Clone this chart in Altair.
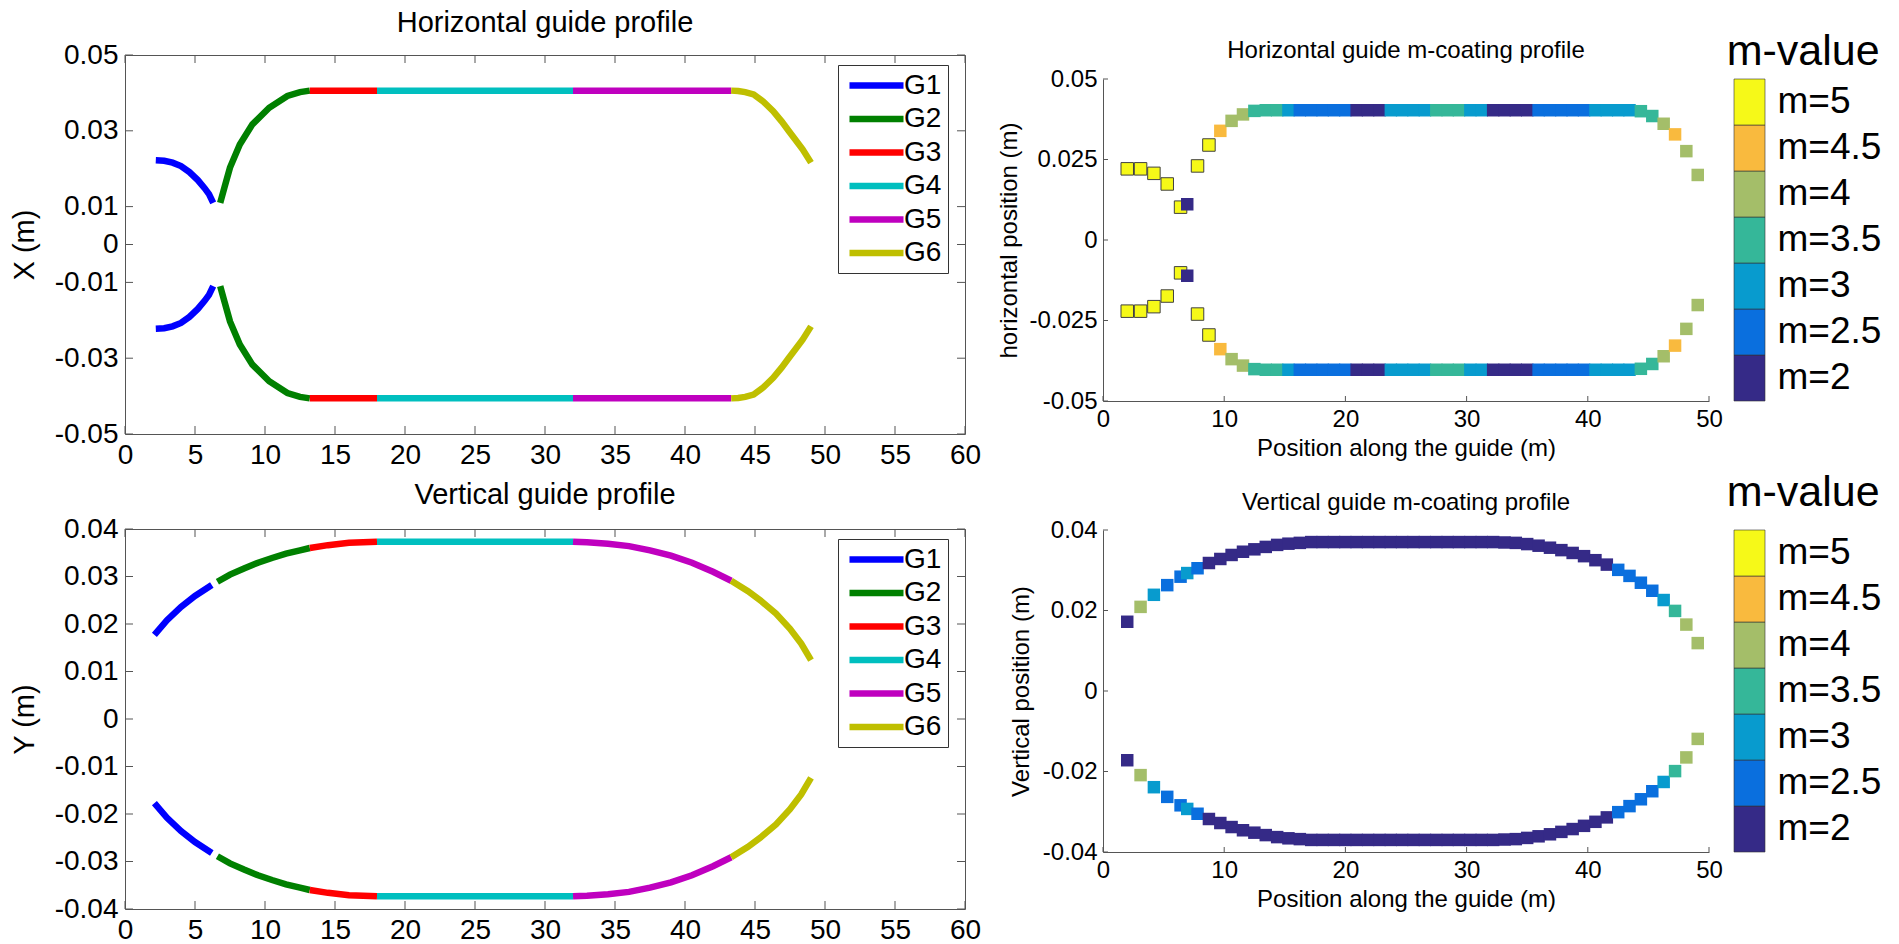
import altair as alt
import pandas as pd

# ---------------------------------------------------------------------------
# Guide sections and their line colours
# ---------------------------------------------------------------------------
SEGMENTS = ["G1", "G2", "G3", "G4", "G5", "G6"]
SEG_COLORS = ["#0000FF", "#008000", "#FF0000", "#00BFBF", "#BF00BF", "#BFBF00"]

# Horizontal guide profile, upper wall (lower wall is the mirror image)
HX_G1 = [2.2, 2.8, 3.4, 4.0, 4.6, 5.2, 5.7, 6.0, 6.3]
HY_G1 = [0.0222, 0.0221, 0.0216, 0.0207, 0.0191, 0.0170, 0.0148, 0.0133, 0.0110]
HX_G2 = [6.8, 7.1, 7.5, 8.2, 9.1, 10.3, 11.6, 12.5, 13.2]
HY_G2 = [0.0110, 0.0150, 0.0203, 0.0264, 0.0317, 0.0361, 0.0392, 0.0402, 0.0406]
HX_G3 = [13.2, 18.0]
HY_G3 = [0.0406, 0.0406]
HX_G4 = [18.0, 32.0]
HY_G4 = [0.0406, 0.0406]
HX_G5 = [32.0, 43.3]
HY_G5 = [0.0406, 0.0406]
HX_G6 = [43.3, 43.8, 44.3, 44.9, 45.6, 46.3, 46.9, 47.4, 47.9, 48.4, 49.0]
HY_G6 = [0.0406, 0.0405, 0.0402, 0.0396, 0.0377, 0.0352, 0.0325, 0.0300, 0.0276, 0.0251, 0.0216]

# Vertical guide profile, upper wall
VX_G1 = [2.1, 3.0, 4.0, 5.0, 6.2]
VY_G1 = [0.0177, 0.0208, 0.0236, 0.0259, 0.0282]
VX_G2 = [6.6, 7.5, 8.5, 9.5, 10.5, 11.5, 12.5, 13.2]
VY_G2 = [0.0289, 0.0304, 0.0317, 0.0329, 0.0339, 0.0348, 0.0355, 0.0360]
VX_G3 = [13.2, 14.5, 16.0, 17.0, 18.0]
VY_G3 = [0.0360, 0.0366, 0.0371, 0.0372, 0.0373]
VX_G4 = [18.0, 32.0]
VY_G4 = [0.0373, 0.0373]
VX_G5 = [32.0, 33.0, 34.5, 36.0, 37.5, 39.0, 40.5, 42.0, 43.3]
VY_G5 = [0.0373, 0.0372, 0.0369, 0.0364, 0.0355, 0.0344, 0.0329, 0.0310, 0.0291]
VX_G6 = [43.3, 44.5, 45.5, 46.5, 47.5, 48.3, 49.0]
VY_G6 = [0.0291, 0.0269, 0.0247, 0.0222, 0.0190, 0.0159, 0.0124]

# ---------------------------------------------------------------------------
# m-coating: element positions along the guide, wall offset and m-value
# ---------------------------------------------------------------------------
POS = [2.0, 3.1, 4.2, 5.3, 6.4, 6.95,
       7.80, 8.74, 9.68, 10.61, 11.55, 12.49, 13.43, 14.37, 15.30, 16.24, 17.18,
       18.12, 19.06, 19.99, 20.93, 21.87, 22.81, 23.75, 24.68, 25.62, 26.56,
       27.50, 28.44, 29.37, 30.31, 31.25, 32.19, 33.13, 34.06, 35.00, 35.94,
       36.88, 37.82, 38.75, 39.69, 40.63, 41.57, 42.51, 43.44, 44.38, 45.32,
       46.26, 47.20, 48.13, 49.07]

H_Y = [0.0221, 0.0221, 0.0207, 0.0174, 0.0102, 0.0111,
       0.0230, 0.0295, 0.0339, 0.0370, 0.0390, 0.0401,
       0.0403, 0.0403, 0.0403, 0.0403, 0.0403, 0.0403, 0.0403, 0.0403, 0.0403, 0.0403, 0.0403,
       0.0403, 0.0403, 0.0403, 0.0403, 0.0403, 0.0403, 0.0403, 0.0403, 0.0403, 0.0403, 0.0403,
       0.0403, 0.0403, 0.0403, 0.0403, 0.0403, 0.0403, 0.0403, 0.0403, 0.0403, 0.0403, 0.0403,
       0.0400, 0.0385, 0.0361, 0.0328, 0.0276, 0.0202]
H_M = [5, 5, 5, 5, 5, 2,
       5, 5, 4.5, 4, 4, 3.5, 3.5, 3.5, 3,
       2.5, 2.5, 2.5, 2.5, 2.5, 2, 2, 2,
       3, 3, 3, 3, 3.5, 3.5, 3.5, 3, 3,
       2, 2, 2, 2, 2.5, 2.5, 2.5, 2.5, 2.5,
       3, 3, 3, 3, 3.5, 3.5, 4, 4.5, 4, 4]

V_Y = [0.0172, 0.0209, 0.0239, 0.0263, 0.0284, 0.0293,
       0.0305, 0.0318, 0.0328, 0.0338, 0.0346, 0.0352,
       0.0358, 0.0363, 0.0366, 0.0368, 0.0370,
       0.0370, 0.0370, 0.0370, 0.0370, 0.0370, 0.0370, 0.0370, 0.0370,
       0.0370, 0.0370, 0.0370, 0.0370, 0.0370, 0.0370, 0.0370, 0.0370,
       0.0369, 0.0368, 0.0365, 0.0361, 0.0356, 0.0350, 0.0343, 0.0335,
       0.0325, 0.0314, 0.0301, 0.0286,
       0.0269, 0.0249, 0.0226, 0.0199, 0.0165, 0.0119]
V_M = [2, 4, 3, 2.5, 2.5, 3, 2.5,
       2, 2, 2, 2, 2, 2, 2, 2, 2, 2, 2, 2,
       2, 2, 2, 2, 2, 2, 2, 2, 2, 2, 2, 2,
       2, 2, 2, 2, 2, 2, 2, 2, 2, 2, 2, 2,
       2.5, 2.5, 2.5, 2.5, 3, 3.5, 4, 4]

M_LEVELS = [2, 2.5, 3, 3.5, 4, 4.5, 5]
M_COLORS = ["#352A87", "#0A6FDE", "#089BCE", "#35B799", "#A4BE69", "#F9BA3E", "#F6F918"]

# Axis ticks
XT_LEFT = [0, 5, 10, 15, 20, 25, 30, 35, 40, 45, 50, 55, 60]
YT_H = [-0.05, -0.03, -0.01, 0, 0.01, 0.03, 0.05]
YT_V = [-0.04, -0.03, -0.02, -0.01, 0, 0.01, 0.02, 0.03, 0.04]
XT_RIGHT = [0, 10, 20, 30, 40, 50]
YT_HM = [-0.05, -0.025, 0, 0.025, 0.05]
YT_VM = [-0.04, -0.02, 0, 0.02, 0.04]

FONT = "Liberation Sans"
AX = "#555555"
PLAIN = "'' + datum.value"


def inward_ticks(xenc, yenc, xticks, yticks, xdom, ydom, length, sides):
    """Short tick marks drawn from the frame towards the inside of the plot."""
    layers = []
    for side in sides:
        if side in ("bottom", "top"):
            yv = ydom[0] if side == "bottom" else ydom[1]
            df = pd.DataFrame({"x": xticks, "y": [yv] * len(xticks)})
            off = -length / 2 if side == "bottom" else length / 2
            mark = alt.Chart(df).mark_tick(orient="vertical", size=length, thickness=1,
                                           color=AX, opacity=1, yOffset=off)
        else:
            xv = xdom[0] if side == "left" else xdom[1]
            df = pd.DataFrame({"x": [xv] * len(yticks), "y": yticks})
            off = length / 2 if side == "left" else -length / 2
            mark = alt.Chart(df).mark_tick(orient="horizontal", size=length, thickness=1,
                                           color=AX, opacity=1, xOffset=off)
        layers.append(mark.encode(x=xenc, y=yenc))
    return layers


def profile_frame(segs):
    rows = []
    for name, xs, ys in segs:
        for wall, sign in (("top", 1), ("bottom", -1)):
            for i, (x, y) in enumerate(zip(xs, ys)):
                rows.append({"seg": name, "part": f"{name}-{wall}", "i": i,
                             "x": x, "y": sign * y})
    return pd.DataFrame(rows)


def profile_chart(segs, title, ytitle, ydom, yticks, height, title_offset):
    df = profile_frame(segs)
    xenc = alt.X("x:Q", scale=alt.Scale(domain=[0, 60], nice=False, zero=False),
                 axis=alt.Axis(values=XT_LEFT, title=None, ticks=False, domain=False,
                               grid=False, labelFontSize=28, labelPadding=7,
                               labelFlush=False, labelOverlap=False))
    yenc = alt.Y("y:Q", scale=alt.Scale(domain=ydom, nice=False, zero=False),
                 axis=alt.Axis(values=yticks, title=ytitle, titleFontSize=29,
                               titlePadding=15, ticks=False, domain=False, grid=False,
                               labelFontSize=28, labelPadding=7, labelFlush=False,
                               labelOverlap=False, labelExpr=PLAIN))
    lines = alt.Chart(df).mark_line(strokeWidth=6.5, strokeCap="butt").encode(
        x=xenc,
        y=yenc,
        color=alt.Color("seg:N", scale=alt.Scale(domain=SEGMENTS, range=SEG_COLORS),
                        legend=alt.Legend(orient="none", legendX=713, legendY=10,
                                          title=None, symbolType="M-2.5,0H2.5",
                                          symbolSize=467, symbolStrokeWidth=6.5,
                                          symbolOffset=18, labelOffset=13,
                                          rowPadding=4.5, padding=6, labelFontSize=28,
                                          strokeColor="#333333", fillColor="white",
                                          labelColor="black")),
        detail="part:N",
        order="i:Q",
    )
    ticks = inward_ticks(xenc, yenc, XT_LEFT, yticks, [0, 60], ydom, 8,
                         ("bottom", "top", "left", "right"))
    return alt.layer(lines, *ticks).properties(
        width=840, height=height,
        title=alt.TitleParams(title, fontSize=29, offset=title_offset),
        view=alt.ViewBackground(stroke=AX, strokeWidth=1),
    )


def coating_chart(ys, ms, title, ytitle, ydom, yticks, title_offset, ytitle_pad):
    df = pd.DataFrame({
        "x": POS + POS,
        "y": ys + [-v for v in ys],
        "m": ms + ms,
    })
    xenc = alt.X("x:Q", scale=alt.Scale(domain=[0, 50], nice=False, zero=False),
                 axis=alt.Axis(values=XT_RIGHT, title="Position along the guide (m)",
                               titleFontSize=24, titlePadding=5, ticks=False,
                               domainColor=AX, grid=False, labelFontSize=24,
                               labelPadding=6, labelFlush=False, labelOverlap=False))
    yenc = alt.Y("y:Q", scale=alt.Scale(domain=ydom, nice=False, zero=False),
                 axis=alt.Axis(values=yticks, title=ytitle, titleFontSize=24,
                               titlePadding=ytitle_pad, ticks=False, domainColor=AX,
                               grid=False, labelFontSize=24, labelPadding=6,
                               labelFlush=False, labelOverlap=False, labelExpr=PLAIN))
    pts = alt.Chart(df).mark_square(size=156, opacity=1, strokeWidth=1).encode(
        x=xenc,
        y=yenc,
        color=alt.Color("m:O", scale=alt.Scale(domain=M_LEVELS, range=M_COLORS),
                        legend=None),
        stroke=alt.condition(alt.datum.m == 5, alt.value("#404040"),
                             alt.value("transparent")),
    )
    ticks = inward_ticks(xenc, yenc, XT_RIGHT, yticks, [0, 50], ydom, 5,
                         ("bottom", "left"))
    return alt.layer(pts, *ticks).properties(
        width=606, height=322,
        title=alt.TitleParams(title, fontSize=24, offset=title_offset),
        view=alt.ViewBackground(stroke="transparent"),
    )


def colorbar(title_offset):
    df = pd.DataFrame({"m": M_LEVELS})
    return alt.Chart(df).mark_rect(stroke="#333333", strokeWidth=0.6).encode(
        y=alt.Y("m:O", sort="descending",
                scale=alt.Scale(paddingInner=0, paddingOuter=0),
                axis=alt.Axis(orient="right", title=None, ticks=False, domain=False,
                              labelFontSize=37, labelPadding=12, labelColor="black",
                              labelExpr="'m=' + datum.value")),
        color=alt.Color("m:O", scale=alt.Scale(domain=M_LEVELS, range=M_COLORS),
                        legend=None),
    ).properties(
        width=31, height=322,
        title=alt.TitleParams("m-value", fontSize=43, anchor="start", dx=-7,
                              offset=title_offset),
        view=alt.ViewBackground(stroke="transparent"),
    )


def gap(h):
    """Empty strip used to set the vertical start of a column."""
    return alt.Chart(alt.Data(values=[{"v": 0}])).mark_text(
        text="", fontSize=1, baseline="top"
    ).encode(
        x=alt.value(0), y=alt.value(0)
    ).properties(width=1, height=h)


h_segs = [("G1", HX_G1, HY_G1), ("G2", HX_G2, HY_G2), ("G3", HX_G3, HY_G3),
          ("G4", HX_G4, HY_G4), ("G5", HX_G5, HY_G5), ("G6", HX_G6, HY_G6)]
v_segs = [("G1", VX_G1, VY_G1), ("G2", VX_G2, VY_G2), ("G3", VX_G3, VY_G3),
          ("G4", VX_G4, VY_G4), ("G5", VX_G5, VY_G5), ("G6", VX_G6, VY_G6)]

left_top = profile_chart(h_segs, "Horizontal guide profile", "X (m)",
                         [-0.05, 0.05], YT_H, 379, 3)
left_bot = profile_chart(v_segs, "Vertical guide profile", "Y (m)",
                         [-0.04, 0.04], YT_V, 380, 5)

right_top = alt.hconcat(
    coating_chart(H_Y, H_M, "Horizontal guide m-coating profile",
                  "horizontal position (m)", [-0.05, 0.05], YT_HM, 4, 7),
    colorbar(4.5),
    spacing=3,
)
right_bot = alt.hconcat(
    coating_chart(V_Y, V_M, "Vertical guide m-coating profile",
                  "Vertical position (m)", [-0.04, 0.04], YT_VM, 3, 9),
    colorbar(14.5),
    spacing=3,
)

left_pair = alt.vconcat(left_top, left_bot, spacing=10).resolve_scale(
    color="independent").resolve_legend(color="independent")
left_col = alt.vconcat(gap(1), left_pair, spacing=0).resolve_scale(
    color="independent").resolve_legend(color="independent")
right_col = alt.vconcat(
    gap(23), alt.vconcat(right_top, right_bot, spacing=10), spacing=0
)

chart = alt.hconcat(left_col, right_col, spacing=15).resolve_scale(
    color="independent"
).resolve_legend(
    color="independent"
).properties(
    padding={"left": 9, "top": 5, "right": 5, "bottom": 0},
).configure(
    font=FONT,
).configure_view(
    stroke="transparent",
).configure_axis(
    labelColor="black", titleColor="black", titleFontWeight="normal",
    labelFont=FONT, titleFont=FONT,
).configure_title(
    fontWeight="normal", color="black", font=FONT,
).configure_legend(
    labelFont=FONT,
)

chart.save("out.html", embed_options={"renderer": "svg", "actions": False})
